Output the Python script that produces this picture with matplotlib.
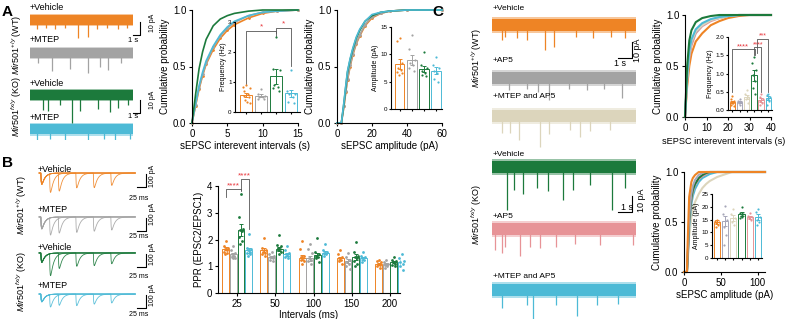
import matplotlib
matplotlib.use('Agg')
import matplotlib.pyplot as plt
import numpy as np

plt.rcParams['font.family'] = ['Liberation Sans', 'DejaVu Sans']
plt.rcParams['mathtext.fontset'] = 'custom'
plt.rcParams['mathtext.rm'] = 'Liberation Sans'
plt.rcParams['mathtext.it'] = 'Liberation Sans:italic'
plt.rcParams['axes.linewidth'] = 0.8
plt.rcParams['xtick.major.width'] = 0.8
plt.rcParams['ytick.major.width'] = 0.8
plt.rcParams['xtick.major.size'] = 2.5
plt.rcParams['ytick.major.size'] = 2.5

W, H = 785, 319

# colours
ORANGE = '#EE8425'
GRAY = '#A3A3A3'
GREEN = '#1C7A3C'
CYAN = '#4DBAD6'
BEIGE = '#DCD5BC'
PINK = '#E79397'
LAV = '#A6A6B8'
RED = '#E8363C'

# ---------------- data: panel A ----------------
# spontaneous traces: event times (s) and depth (pA)
a_names = ['+Vehicle', '+MTEP', '+Vehicle', '+MTEP']
a_colors = [ORANGE, GRAY, GREEN, CYAN]
a_ev_t = [[1.0, 2.3, 3.5, 5.0, 6.9, 8.3, 9.5, 11.0, 12.5, 13.8],
          [1.2, 3.1, 5.7, 8.3, 10.0, 11.1, 13.0],
          [1.9, 2.6, 4.3, 6.0, 7.1, 9.7, 11.4, 12.6, 14.0],
          [1.0, 2.9, 5.0, 8.3, 10.5, 12.1, 14.3]]
a_ev_amp = [[7, 6, 7, 6, 14, 13, 7, 6, 7, 6],
            [8, 14, 12, 15, 11, 13, 8],
            [11.5, 12, 8, 21.5, 12, 11, 13, 10, 8],
            [9, 8, 9, 9, 8, 9, 8]]

# cumulative probability, interevent interval (s)
a_iei_x = [0, 0.5, 1, 1.5, 2, 3, 4, 5, 6, 8, 10, 12, 15]
a_iei = {ORANGE: [0, 0.15, 0.3, 0.42, 0.52, 0.65, 0.75, 0.82, 0.87, 0.93, 0.97, 0.99, 1.0],
         GRAY: [0, 0.16, 0.31, 0.43, 0.53, 0.67, 0.77, 0.84, 0.89, 0.95, 0.98, 0.99, 1.0],
         CYAN: [0, 0.17, 0.33, 0.45, 0.55, 0.68, 0.78, 0.85, 0.9, 0.95, 0.98, 0.99, 1.0],
         GREEN: [0, 0.25, 0.48, 0.63, 0.74, 0.86, 0.92, 0.95, 0.97, 0.99, 1.0, 1.0, 1.0]}
# cumulative probability, amplitude (pA)
a_amp_x = [0, 2.5, 4, 5, 6, 7.5, 9, 11, 13, 16, 20, 25, 30, 40, 60]
a_amp = {ORANGE: [0, 0, 0.15, 0.27, 0.38, 0.5, 0.6, 0.7, 0.77, 0.86, 0.93, 0.97, 0.99, 1, 1],
         GRAY: [0, 0, 0.15, 0.28, 0.39, 0.51, 0.61, 0.71, 0.78, 0.87, 0.94, 0.97, 0.99, 1, 1],
         GREEN: [0, 0, 0.18, 0.32, 0.45, 0.56, 0.65, 0.75, 0.82, 0.9, 0.95, 0.98, 0.99, 1, 1],
         CYAN: [0, 0, 0.19, 0.33, 0.46, 0.57, 0.66, 0.76, 0.83, 0.9, 0.96, 0.98, 0.99, 1, 1]}

# inset bars
a_freq_mean = [0.57, 0.55, 1.2, 0.62]
a_freq_sem = [0.07, 0.04, 0.25, 0.13]
a_freq_dots = [[0.9, 0.85, 0.8, 0.7, 0.6, 0.55, 0.5, 0.4, 0.35, 0.3],
               [0.78, 0.6, 0.55, 0.5, 0.5, 0.45, 0.45],
               [2.5, 1.45, 1.4, 0.9, 0.85, 0.8, 0.7],
               [1.4, 0.7, 0.6, 0.6, 0.5, 0.35, 0.3]]
a_ampbar_mean = [8.2, 9.0, 7.3, 7.0]
a_ampbar_sem = [0.9, 0.9, 0.6, 0.6]
a_ampbar_dots = [[13, 12.5, 8.5, 7.5, 7.2, 6.8, 6.5, 6.2],
                 [13.5, 11, 9, 8.5, 8, 7.5, 7],
                 [10.5, 8, 7.5, 7, 6.5, 6.2, 6],
                 [9.5, 8, 7.5, 7, 6.5, 5.5, 5]]

# ---------------- data: panel B ----------------
intervals = [25, 50, 100, 150, 200]
b_colors = [ORANGE, GRAY, GREEN, CYAN]
b_first_amp = [90, 95, 75, 62]          # EPSC1 size in the example traces (pA)
ppr_mean = [[1.65, 1.6, 1.32, 1.3, 1.1],
            [1.45, 1.35, 1.3, 1.2, 1.1],
            [2.35, 1.65, 1.42, 1.35, 1.15],
            [1.6, 1.45, 1.5, 1.3, 1.15]]
ppr_sem = [[0.06, 0.07, 0.09, 0.06, 0.04],
           [0.05, 0.05, 0.09, 0.07, 0.04],
           [0.22, 0.07, 0.09, 0.1, 0.04],
           [0.09, 0.06, 0.06, 0.05, 0.07]]
ppr_dots = [
    [[1.95, 1.75, 1.7, 1.65, 1.6, 1.55, 1.5, 1.45],
     [2.05, 1.7, 1.6, 1.55, 1.5, 1.45, 1.4],
     [1.95, 1.65, 1.4, 1.35, 1.3, 1.25, 1.2, 1.1],
     [1.6, 1.45, 1.35, 1.3, 1.25, 1.2, 1.1],
     [1.25, 1.2, 1.15, 1.1, 1.05, 1.0, 0.95]],
    [[1.75, 1.6, 1.5, 1.45, 1.4, 1.35, 1.3, 1.3],
     [1.55, 1.45, 1.4, 1.35, 1.3, 1.25, 1.2],
     [1.85, 1.65, 1.5, 1.3, 1.25, 1.2, 1.1],
     [1.5, 1.35, 1.25, 1.15, 1.1, 1.0, 0.9],
     [1.25, 1.15, 1.1, 1.05, 1.0, 0.95]],
    [[3.7, 2.85, 2.4, 2.35, 2.3, 2.1, 1.95, 1.85],
     [2.15, 1.8, 1.75, 1.7, 1.65, 1.6, 1.55, 1.45],
     [2.05, 1.55, 1.45, 1.4, 1.35, 1.3, 1.15],
     [1.9, 1.55, 1.4, 1.35, 1.3, 1.2, 1.1, 1.0],
     [1.35, 1.25, 1.2, 1.15, 1.1, 1.05, 1.0]],
    [[2.2, 1.7, 1.65, 1.6, 1.55, 1.5, 1.45, 1.4],
     [1.75, 1.6, 1.5, 1.45, 1.4, 1.35, 1.3],
     [1.85, 1.6, 1.55, 1.5, 1.45, 1.4],
     [1.55, 1.4, 1.35, 1.3, 1.25, 1.15],
     [1.45, 1.3, 1.2, 1.15, 1.1, 1.0, 0.85]]]

# ---------------- data: panel C ----------------
c_names = ['+Vehicle', '+AP5', '+MTEP and AP5', '+Vehicle', '+AP5', '+MTEP and AP5']
c_colors = [ORANGE, GRAY, BEIGE, GREEN, PINK, CYAN]
c_ev_t = [[0.7, 0.9, 1.8, 2.5, 3.8, 4.4, 6.0, 7.2, 8.5, 9.5],
          [1.2, 2.5, 3.3, 4.1, 5.5, 6.8, 8.0, 9.3],
          [0.7, 1.3, 1.9, 3.4, 4.1, 5.6, 6.3, 7.0, 8.4],
          [1.1, 1.6, 2.2, 3.2, 4.0, 5.1, 5.8, 7.0, 8.6, 9.5],
          [0.2, 0.7, 0.9, 2.0, 2.7, 3.4, 4.6, 5.9, 7.7, 10.1],
          [0.7, 2.5, 2.9, 4.6, 6.1, 7.5, 9.0]]
c_ev_amp = [[10, 8, 9, 10, 16.7, 15, 8, 9, 8, 9],
            [8, 7, 9, 14.7, 7, 8, 7, 13],
            [11, 11, 16, 20.7, 12, 9, 14, 10, 9],
            [28.7, 15, 18, 14, 16, 22, 15, 12, 28.7, 14],
            [14, 16, 12, 18, 12, 13, 12, 10, 11, 11],
            [12, 10, 20, 10, 17, 10, 9]]

c_iei_x = [0, 1, 2, 3, 5, 8, 12, 16, 20, 25, 30, 40]
c_iei = {ORANGE: [0, 0.3, 0.5, 0.62, 0.74, 0.82, 0.9, 0.94, 0.97, 0.99, 1, 1],
         PINK: [0, 0.36, 0.58, 0.7, 0.82, 0.89, 0.94, 0.97, 0.99, 1, 1, 1],
         LAV: [0, 0.37, 0.6, 0.72, 0.83, 0.9, 0.95, 0.97, 0.99, 1, 1, 1],
         BEIGE: [0, 0.38, 0.62, 0.74, 0.84, 0.9, 0.95, 0.97, 0.99, 1, 1, 1],
         CYAN: [0, 0.4, 0.65, 0.76, 0.86, 0.92, 0.96, 0.98, 0.99, 1, 1, 1],
         GREEN: [0, 0.5, 0.75, 0.85, 0.93, 0.97, 0.99, 1, 1, 1, 1, 1]}
c_amp_x = [0, 4, 5, 7, 10, 12, 15, 20, 25, 30, 35, 45, 65, 110]
c_amp = {BEIGE: [0, 0, 0.1, 0.35, 0.55, 0.63, 0.7, 0.78, 0.84, 0.88, 0.91, 0.95, 1, 1],
         CYAN: [0, 0, 0.12, 0.45, 0.68, 0.76, 0.83, 0.9, 0.94, 0.96, 0.98, 1, 1, 1],
         PINK: [0, 0, 0.14, 0.5, 0.72, 0.8, 0.87, 0.93, 0.96, 0.98, 1, 1, 1, 1],
         GREEN: [0, 0, 0.15, 0.52, 0.74, 0.82, 0.88, 0.94, 0.97, 0.99, 1, 1, 1, 1],
         LAV: [0, 0, 0.18, 0.55, 0.78, 0.86, 0.92, 0.97, 0.99, 1, 1, 1, 1, 1],
         ORANGE: [0, 0, 0.3, 0.75, 0.9, 0.94, 0.97, 1, 1, 1, 1, 1, 1, 1]}

c_bar_colors = [ORANGE, LAV, BEIGE, GREEN, PINK, CYAN]
c_freq_mean = [0.22, 0.22, 0.35, 0.95, 0.28, 0.33]
c_freq_sem = [0.03, 0.03, 0.06, 0.15, 0.05, 0.05]
c_freq_dots = [[0.38, 0.3, 0.25, 0.2, 0.18, 0.15, 0.12],
               [0.3, 0.25, 0.22, 0.18, 0.15],
               [0.55, 0.45, 0.35, 0.3, 0.2],
               [1.45, 1.3, 1.1, 0.95, 0.8, 0.6, 0.45],
               [0.45, 0.35, 0.3, 0.25, 0.2, 0.15],
               [0.45, 0.4, 0.35, 0.3, 0.25, 0.15]]
c_ampbar_mean = [14, 14.5, 15.5, 17.2, 16, 16]
c_ampbar_sem = [0.8, 2.0, 1.2, 0.8, 0.6, 1.0]
c_ampbar_dots = [[15, 14.5, 14, 13.5, 13, 12],
                 [20.5, 17, 15, 12, 9, 5],
                 [19, 17, 15.5, 14, 13],
                 [20, 17.5, 17, 16.5, 16, 15.5],
                 [17.5, 16.5, 16, 15.5, 15],
                 [19, 18, 16, 15, 14, 13]]


# ---------------- helpers ----------------
def px_axes(x0, y0, x1, y1):
    # axes placed by pixel box (left, top, right, bottom)
    return fig.add_axes([x0 / W, 1 - y1 / H, (x1 - x0) / W, (y1 - y0) / H])


def px_text(x, y, s, **kw):
    fig.text(x / W, 1 - y / H, s, **kw)


def clean(ax):
    ax.spines['top'].set_visible(False)
    ax.spines['right'].set_visible(False)


def spread(n):
    pat = [0, -1, 1, -0.5, 0.5, -0.75, 0.75, -0.25, 0.25, 1, -1, 0]
    return np.array(pat[:n])


def dot_bars(ax, xs, means, sems, dots, colors, width, ms=3, lw=0.7):
    for x, m, s, d, c in zip(xs, means, sems, dots, colors):
        ax.bar(x, m, width, facecolor='white', edgecolor=c, linewidth=lw, zorder=1)
        ax.errorbar(x, m, yerr=s, color=c, capsize=1.2, lw=lw, capthick=lw, zorder=2)
        ax.scatter(x + spread(len(d)) * width * 0.3, d, s=ms, color=c,
                   linewidths=0, zorder=3, clip_on=False)


def spont_traces(ax, t_end, centers, half, ev_t, ev_amp, colors):
    for c0, tt, aa, col in zip(centers, ev_t, ev_amp, colors):
        # soft outer band for the noise edge, solid core
        ax.fill_between([0, t_end], c0 - half * 1.3, c0 + half * 1.3, color=col, lw=0, alpha=0.45)
        ax.fill_between([0, t_end], c0 - half, c0 + half, color=col, lw=0)
        ax.vlines(tt, c0 - np.array(aa), c0 - half + 0.5, color=col, lw=0.9)
    ax.axis('off')


fig = plt.figure(figsize=(W / 100, H / 100), dpi=100)

# ================= Panel A =================
px_text(2, 12, 'A', fontsize=11, fontweight='bold', va='center')
ax = px_axes(28, 5, 160, 140)
ax.set_xlim(-0.29, 18.57)
ax.set_ylim(-103.8, 0)
a_centers = [-11.5, -36.9, -69.2, -95.4]
spont_traces(ax, 14.7, a_centers, 3.8, a_ev_t, a_ev_amp, a_colors)
# scale bars: 1 s, 10 pA
for yb in [-23, -83]:
    ax.plot([14.7, 15.7, 15.7], [yb, yb, yb + 10], color='black', lw=0.8)
for (x, y), s in zip([(30, 8), (30, 40), (30, 84), (30, 118)], a_names):
    px_text(x, y, s, fontsize=6.5, va='center')
px_text(133, 40, '1 s', fontsize=5.5, ha='center', va='center')
px_text(133, 117, '1 s', fontsize=5.5, ha='center', va='center')
px_text(152, 23, '10 pA', fontsize=5, rotation=90, ha='center', va='center')
px_text(152, 100, '10 pA', fontsize=5, rotation=90, ha='center', va='center')
px_text(17, 45, r'$\mathit{Mir501}^{+/y}$ (WT)', fontsize=6.5, rotation=90, ha='center', va='center')
px_text(17, 107, r'$\mathit{Mir501}^{fx/y}$ (KO)', fontsize=6.5, rotation=90, ha='center', va='center')

# cumulative: interevent intervals
ax = px_axes(192, 10, 298, 123)
for col, yv in a_iei.items():
    mk = '.' if col in (ORANGE, GRAY) else None
    ax.plot(a_iei_x, yv, color=col, lw=1.2, marker=mk, ms=2, clip_on=False)
ax.set_xlim(0, 15)
ax.set_ylim(0, 1)
ax.set_xticks([0, 5, 10, 15])
ax.set_yticks([0, 0.5, 1.0])
ax.set_yticklabels(['0.0', '0.5', '1.0'])
ax.tick_params(labelsize=7, pad=1.5)
ax.set_ylabel('Cumulative probability', fontsize=7, labelpad=2)
ax.set_xlabel('sEPSC interevent intervals (s)', fontsize=7, labelpad=2)
clean(ax)

ax = px_axes(235, 22, 300, 112)
dot_bars(ax, range(4), a_freq_mean, a_freq_sem, a_freq_dots, a_colors, 0.8, ms=2.5)
ax.set_xlim(-0.75, 3.6)
ax.set_ylim(0, 3)
ax.set_yticks([0, 1, 2, 3])
ax.set_xticks(range(4))
ax.set_xticklabels([])
ax.tick_params(labelsize=4.5, pad=1, length=1.5)
ax.set_ylabel('Frequency (Hz)', fontsize=5, labelpad=1)
ax.patch.set_alpha(0)
clean(ax)
ax.plot([0, 0, 2, 2], [0.95, 2.7, 2.7, 2.55], color='#555555', lw=0.6, clip_on=False)
ax.plot([2, 2, 3, 3], [2.62, 2.8, 2.8, 1.55], color='#555555', lw=0.6, clip_on=False)
ax.text(1, 2.72, '*', color=RED, fontsize=6, ha='center', va='bottom')
ax.text(2.5, 2.82, '*', color=RED, fontsize=6, ha='center', va='bottom')

# cumulative: amplitude
ax = px_axes(337, 10, 442, 123)
for col, yv in a_amp.items():
    mk = '.' if col in (ORANGE, GRAY) else None
    ax.plot(a_amp_x, yv, color=col, lw=1.2, marker=mk, ms=2, clip_on=False)
ax.set_xlim(0, 60)
ax.set_ylim(0, 1)
ax.set_xticks([0, 20, 40, 60])
ax.set_yticks([0, 0.5, 1.0])
ax.set_yticklabels(['0.0', '0.5', '1.0'])
ax.tick_params(labelsize=7, pad=1.5)
ax.set_ylabel('Cumulative probability', fontsize=7, labelpad=2)
ax.set_xlabel('sEPSC amplitude (pA)', fontsize=7, labelpad=2)
clean(ax)

ax = px_axes(391, 27, 442, 109)
dot_bars(ax, range(4), a_ampbar_mean, a_ampbar_sem, a_ampbar_dots, a_colors, 0.8, ms=2.5)
ax.set_xlim(-0.7, 3.5)
ax.set_ylim(0, 15)
ax.set_yticks([0, 5, 10, 15])
ax.set_xticks(range(4))
ax.set_xticklabels([])
ax.tick_params(labelsize=4.5, pad=1, length=1.5)
ax.set_ylabel('Amplitude (pA)', fontsize=5, labelpad=1)
ax.patch.set_alpha(0)
clean(ax)

# ================= Panel B =================
px_text(2, 163, 'B', fontsize=11, fontweight='bold', va='center')
ax = px_axes(37, 163, 150, 319)
ax.set_xlim(-11, 312)
ax.set_ylim(-1200, 0)
b_base = [-77, -415, -692, -1008]
t = np.linspace(-5, 270, 1200)


def epsc(tt):
    # unit-peak EPSC waveform
    tt = np.clip(tt, 0, None)
    w = np.exp(-tt / 9.0) - np.exp(-tt / 1.2)
    return w / 0.66


for k in range(4):
    for j, dt in enumerate(intervals):
        y = b_base[k] - b_first_amp[k] * (epsc(t) + ppr_mean[k][j] * epsc(t - dt))
        ax.plot(t, y, color=b_colors[k], lw=0.6, alpha=0.9)
    # scale bar 25 ms / 100 pA
    yb = b_base[k] - 110
    ax.plot([275, 300, 300], [yb, yb, yb + 100], color='black', lw=0.8)
ax.axis('off')
for (x, y), s in zip([(38, 169), (38, 209), (38, 247), (38, 286)], a_names):
    px_text(x, y, s, fontsize=6.5, va='center')
for y in [198, 237, 276, 315]:
    px_text(139, y, '25 ms', fontsize=5, ha='center', va='center')
for y in [176, 214, 254, 295]:
    px_text(152, y, '100 pA', fontsize=5, rotation=90, ha='center', va='center')
px_text(22, 205, r'$\mathit{Mir501}^{+/y}$ (WT)', fontsize=6.5, rotation=90, ha='center', va='center')
px_text(22, 282, r'$\mathit{Mir501}^{fx/y}$ (KO)', fontsize=6.5, rotation=90, ha='center', va='center')

ax = px_axes(218, 186, 400, 293)
bw = 0.18
for k in range(4):
    xs = np.arange(5) + (k - 1.5) * 0.2
    dot_bars(ax, xs, ppr_mean[k], ppr_sem[k], ppr_dots[k], [b_colors[k]] * 5, bw, ms=4)
ax.set_xlim(-0.5, 4.26)
ax.set_ylim(0, 4)
ax.set_yticks([0, 1, 2, 3, 4])
ax.set_xticks(range(5))
ax.set_xticklabels([str(i) for i in intervals])
ax.tick_params(labelsize=7, pad=1.5)
ax.set_ylabel('PPR (EPSC2/EPSC1)', fontsize=7, labelpad=2)
ax.set_xlabel('Intervals (ms)', fontsize=7, labelpad=1)
clean(ax)
ax.plot([-0.3, -0.3, 0.1, 0.1], [3.6, 3.9, 3.9, 3.82], color='#555555', lw=0.6, clip_on=False)
ax.plot([0.1, 0.1, 0.3, 0.3], [3.85, 4.27, 4.27, 2.4], color='#555555', lw=0.6, clip_on=False)
ax.text(-0.1, 3.88, '****', color=RED, fontsize=6, ha='center', va='bottom')
ax.text(0.2, 4.25, '****', color=RED, fontsize=6, ha='center', va='bottom', clip_on=False)

# ================= Panel C =================
px_text(432, 12, 'C', fontsize=11, fontweight='bold', va='center')
ax = px_axes(490, 5, 645, 319)
ax.set_xlim(-0.14, 10.93)
ax.set_ylim(-209.3, 0)
c_centers = [-13.3, -48.7, -74, -108, -149.3, -190]
spont_traces(ax, 10.3, c_centers, 4.0, c_ev_t, c_ev_amp, c_colors)
for yb in [-35.3, -138]:
    ax.plot([9.0, 10.0, 10.0], [yb, yb, yb + 10.7], color='black', lw=0.8)
for (x, y), s in zip([(493, 9), (493, 60), (493, 97), (493, 155), (493, 217), (493, 276)], c_names):
    px_text(x, y, s, fontsize=6, va='center')
px_text(620, 63, '1 s', fontsize=6.5, ha='center', va='center')
px_text(627, 208, '1 s', fontsize=6.5, ha='center', va='center')
px_text(637, 50, '10 pA', fontsize=6.5, rotation=90, ha='center', va='center')
px_text(641, 200, '10 pA', fontsize=6.5, rotation=90, ha='center', va='center')
px_text(477, 58, r'$\mathit{Mir501}^{+/y}$ (WT)', fontsize=6.5, rotation=90, ha='center', va='center')
px_text(477, 215, r'$\mathit{Mir501}^{fx/y}$ (KO)', fontsize=6.5, rotation=90, ha='center', va='center')

ax = px_axes(685, 15, 771, 117)
for col, yv in c_iei.items():
    ax.plot(c_iei_x, yv, color=col, lw=1.5, clip_on=False)
ax.set_xlim(0, 40)
ax.set_ylim(0, 1)
ax.set_xticks([0, 10, 20, 30, 40])
ax.set_yticks([0, 0.5, 1.0])
ax.set_yticklabels(['0.0', '0.5', '1.0'])
ax.tick_params(labelsize=7, pad=1.5)
ax.set_ylabel('Cumulative probability', fontsize=7, labelpad=2)
ax.set_xlabel('sEPSC interevent intervals (s)', fontsize=6.6)
ax.xaxis.set_label_coords(0.45, -0.2)
clean(ax)

ax = px_axes(728, 37, 772, 110)
dot_bars(ax, range(6), c_freq_mean, c_freq_sem, c_freq_dots, c_bar_colors, 0.75, ms=2.5)
ax.set_xlim(-0.6, 5.5)
ax.set_ylim(0, 2)
ax.set_yticks([0, 0.5, 1.0, 1.5, 2.0])
ax.set_yticklabels(['0.0', '0.5', '1.0', '1.5', '2.0'])
ax.set_xticks(range(6))
ax.set_xticklabels([])
ax.tick_params(labelsize=4.5, pad=1, length=1.5)
ax.set_ylabel('Frequency (Hz)', fontsize=5, labelpad=1)
ax.patch.set_alpha(0)
clean(ax)
ax.plot([0, 0, 3.2, 3.2], [0.5, 1.66, 1.66, 1.5], color='#555555', lw=0.6)
ax.plot([3.0, 3.0, 4.0, 4.0], [1.5, 1.72, 1.72, 0.5], color='#555555', lw=0.6)
ax.plot([3.4, 3.4, 5.0, 5.0], [1.55, 1.94, 1.94, 0.5], color='#555555', lw=0.6, clip_on=False)
ax.text(1.5, 1.62, '****', color=RED, fontsize=5.5, ha='center', va='bottom')
ax.text(3.6, 1.68, '****', color=RED, fontsize=5, ha='center', va='bottom')
ax.text(4.2, 1.93, '***', color=RED, fontsize=5, ha='center', va='bottom', clip_on=False)

ax = px_axes(684, 172, 765, 272)
for col, yv in c_amp.items():
    ax.plot(c_amp_x, yv, color=col, lw=1.5, clip_on=False)
ax.set_xlim(0, 110)
ax.set_ylim(0, 1)
ax.set_xticks([0, 50, 100])
ax.set_yticks([0, 0.5, 1.0])
ax.set_yticklabels(['0.0', '0.5', '1.0'])
ax.tick_params(labelsize=7, pad=1.5)
ax.set_ylabel('Cumulative probability', fontsize=7, labelpad=2)
ax.set_xlabel('sEPSC amplitude (pA)', fontsize=7, labelpad=2)
clean(ax)

ax = px_axes(712, 194, 762, 258)
dot_bars(ax, range(6), c_ampbar_mean, c_ampbar_sem, c_ampbar_dots, c_bar_colors, 0.75, ms=2.5)
ax.set_xlim(-0.6, 5.5)
ax.set_ylim(0, 25)
ax.set_yticks([0, 5, 10, 15, 20, 25])
ax.set_xticks(range(6))
ax.set_xticklabels([])
ax.tick_params(labelsize=4.5, pad=1, length=1.5)
ax.set_ylabel('Amplitude (pA)', fontsize=5, labelpad=1)
ax.patch.set_alpha(0)
clean(ax)

fig.savefig('out.png', dpi=100)
